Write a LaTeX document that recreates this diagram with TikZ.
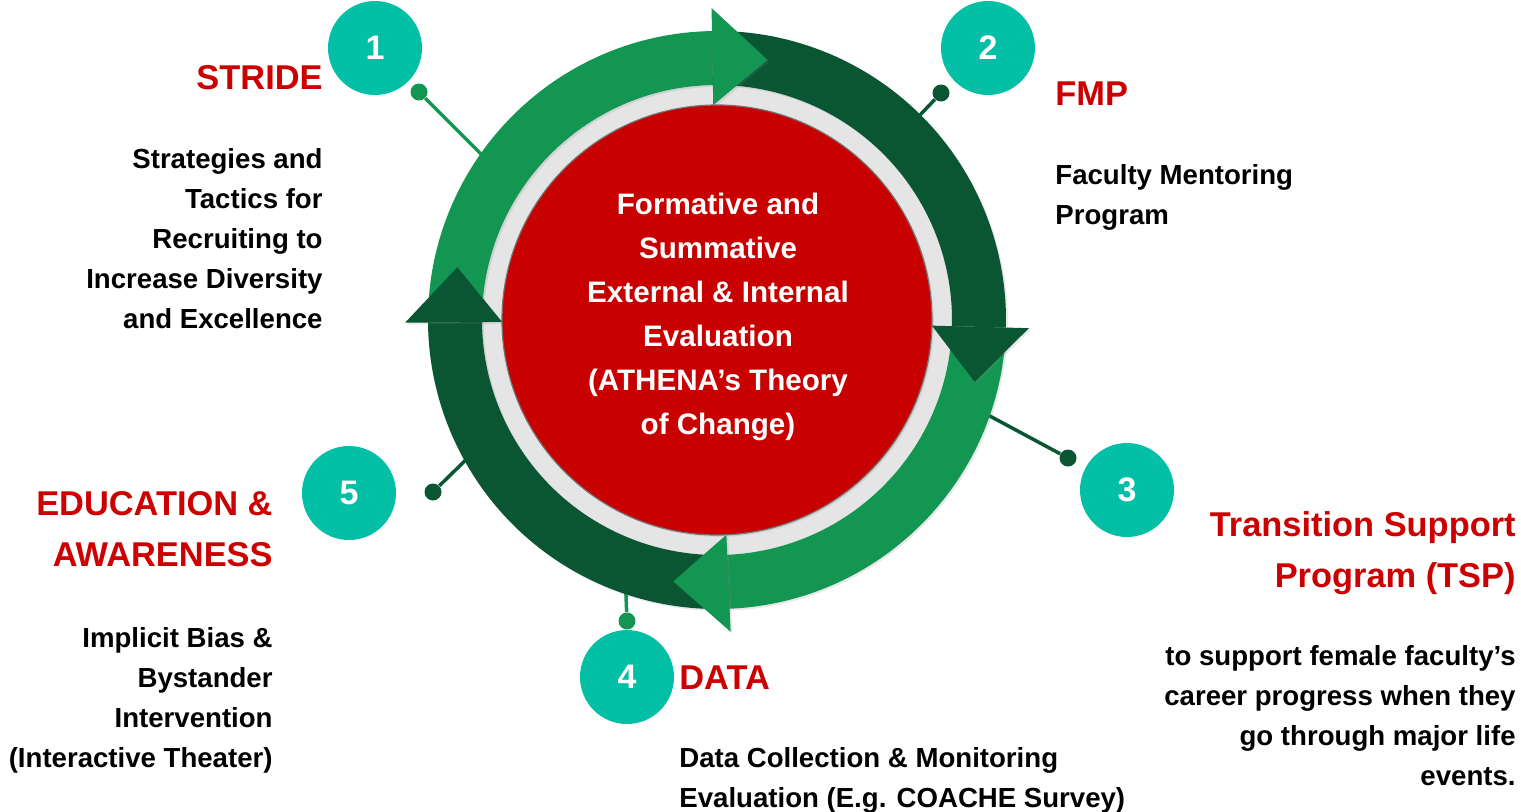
\documentclass[tikz,border=0pt]{standalone}
\usepackage{fontspec}
\setmainfont{Liberation Sans}
\usepackage{xcolor}
\usepackage{tikz}
\usetikzlibrary{shadows}

\definecolor{lgreen}{HTML}{129652}
\definecolor{dgreen}{HTML}{0A5633}
\definecolor{tealc}{HTML}{03BFA6}
\definecolor{titlered}{HTML}{CC0000}
\definecolor{corered}{HTML}{C80000}
\definecolor{ringgray}{HTML}{E5E5E5}

\begin{document}
\begin{tikzpicture}[x=0.5pt,y=-0.5pt]
\tikzstyle{numcirc}=[circle,fill=tealc,text=white,minimum size=47pt,inner sep=0pt,font=\fontsize{17}{20}\selectfont\bfseries]
\tikzstyle{linkdot}=[circle,minimum size=8.5pt,inner sep=0pt]
\tikzstyle{linkline}=[line width=1.75pt]
\tikzstyle{headtxt}=[text=titlered,inner sep=0pt,font=\fontsize{17.2}{25.5}\selectfont\bfseries]
\tikzstyle{bodytxt}=[inner sep=0pt,font=\fontsize{13.8}{20}\selectfont\bfseries]
\tikzstyle{soft}=[drop shadow={opacity=0.18,shadow xshift=0.9pt,shadow yshift=-0.9pt}]
\useasboundingbox (0,0) rectangle (1521,811);

% connectors, their inner ends go under the ring
\node[linkdot,fill=lgreen] (d1) at (419,92) {};
\node[linkdot,fill=dgreen] (d2) at (941,93) {};
\node[linkdot,fill=dgreen] (d3) at (1068,458) {};
\node[linkdot,fill=lgreen] (d4) at (627,621) {};
\node[linkdot,fill=dgreen] (d5) at (433,492) {};
\coordinate (e1) at (500,173);
\coordinate (e2) at (900,136);
\coordinate (e3) at (960,400);
\coordinate (e4) at (625,570);
\coordinate (e5) at (480,446);
\draw[linkline,lgreen] (d1) -- (e1);
\draw[linkline,dgreen] (d2) -- (e2);
\draw[linkline,dgreen] (d3) -- (e3);
\draw[linkline,lgreen] (d4) -- (e4);
\draw[linkline,dgreen] (d5) -- (e5);

% ring of four arrows around the core
\begin{scope}[shift={(717,320)},yscale=-1]
\fill[ringgray] (0,0) circle[radius=235];
\fill[corered,draw=black!55,line width=0.6pt,soft] (0,0) circle[radius=215];
\foreach \a/\b/\c in {180.5/91/lgreen,91/-1.5/dgreen,-1.5/-87.5/lgreen,272.5/180.5/dgreen}
  \fill[\c,soft] (\a:289) arc[start angle=\a,end angle=\b,radius=289] -- (\b:235)
    arc[start angle=\b,end angle=\a,radius=235] -- cycle;
\foreach \b/\c in {91/lgreen,-1.5/dgreen,-87.5/lgreen,180.5/dgreen}
  \fill[\c,soft] (\b:312) -- ({\b-12}:265) -- (\b:215) -- cycle;
\end{scope}

\node[text=white,align=center,anchor=north,inner sep=0pt,font=\fontsize{14.8}{22}\selectfont\bfseries] (core) at (718,192.5)
  {Formative and\\Summative\\External \& Internal\\Evaluation\\(ATHENA’s Theory\\of Change)};

\node[numcirc] (n1) at (375,48) {1};
\node[numcirc] (n2) at (988,48) {2};
\node[numcirc] (n3) at (1127,490) {3};
\node[numcirc] (n4) at (627,677) {4};
\node[numcirc] (n5) at (349,493) {5};

\node[headtxt,anchor=base east] (h1) at (323,89) {STRIDE};
\node[bodytxt,anchor=north east,align=right] (b1) at (323,148)
  {Strategies and\\Tactics for\\Recruiting to\\Increase Diversity\\and Excellence};

\node[headtxt,anchor=base west] (h2) at (1055,105) {FMP};
\node[bodytxt,anchor=north west,align=left] (b2) at (1055,164)
  {Faculty Mentoring\\Program};

\node[headtxt,anchor=north east,align=right] (h3) at (1516,511)
  {Transition Support\\Program (TSP)};
\node[bodytxt,anchor=north east,align=right] (b3) at (1516,645)
  {to support female faculty’s\\career progress when they\\go through major life\\events.};

\node[headtxt,anchor=base west] (h4) at (679,689) {DATA};
\node[bodytxt,anchor=north west,align=left] (b4) at (679,747)
  {Data Collection \& Monitoring\\Evaluation (E.g. COACHE Survey)};

\node[headtxt,anchor=north east,align=right] (h5) at (273,491)
  {EDUCATION \&\\AWARENESS};
\node[bodytxt,anchor=north east,align=right] (b5) at (273,627)
  {Implicit Bias \&\\Bystander\\Intervention\\(Interactive Theater)};
\end{tikzpicture}
\end{document}
